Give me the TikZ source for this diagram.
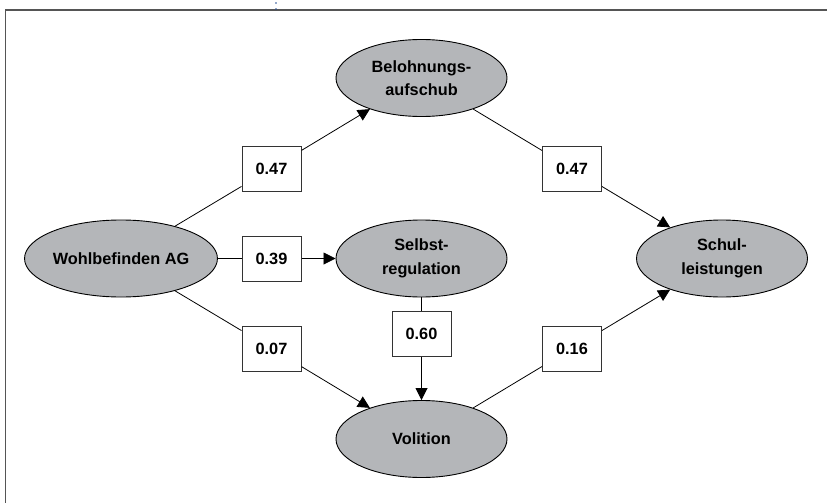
\documentclass[tikz,border=0pt]{standalone}
\usepackage{fontspec}
\setmainfont{Liberation Sans}
\usetikzlibrary{shapes.geometric,arrows.meta}
\definecolor{ellfill}{RGB}{180,182,185}
\definecolor{framecol}{RGB}{85,85,85}
\definecolor{dotcol}{RGB}{40,80,150}
\begin{document}
\begin{tikzpicture}[x=1pt,y=-1pt,
  latent/.style={ellipse, draw=black, line width=0.9pt, fill=ellfill,
    minimum width=171pt, minimum height=77pt, inner sep=0pt, align=center,
    font=\fontsize{16.3}{23.5}\selectfont\bfseries},
  coef/.style={rectangle, draw=black!80, line width=1pt, fill=white,
    minimum width=59pt, minimum height=45pt, inner sep=0pt,
    font=\fontsize{16.3}{20}\selectfont\bfseries},
  conn/.style={line width=0.8pt, draw=black},
  arr/.style={-{Triangle[length=12pt,width=12pt]}}
]
\useasboundingbox (0,0) rectangle (827,503);
\draw[framecol, line width=1.6pt] (5.5,503) -- (5.5,10) -- (827,10);
\fill[dotcol] (276,3) circle (0.8pt);
\fill[dotcol] (276,9) circle (0.8pt);

\node[latent] (W) at (121,258.5) {Wohlbefinden AG};
\node[latent] (B) at (421.5,78) {Belohnungs-\\aufschub};
\node[latent] (S) at (421.5,258.5) {Selbst-\\regulation};
\node[latent] (V) at (421.5,439) {Volition};
\node[latent] (L) at (722,258.5) {Schul-\\leistungen};

\node[coef] (b1) at (271.5,168.5) {0.47};
\node[coef] (b2) at (271.5,258.5) {0.39};
\node[coef] (b3) at (271.5,348.5) {0.07};
\node[coef] (b4) at (421.5,333.5) {0.60};
\node[coef] (b5) at (572,168.5) {0.47};
\node[coef] (b6) at (572,348.5) {0.16};

\draw[conn] (W) -- (b1);
\draw[conn,arr] (b1) -- (B);
\draw[conn] (W) -- (b2);
\draw[conn,arr] (b2) -- (S);
\draw[conn] (W) -- (b3);
\draw[conn,arr] (b3) -- (V);
\draw[conn] (S) -- (b4);
\draw[conn,arr] (b4) -- (V);
\draw[conn] (B) -- (b5);
\draw[conn,arr] (b5) -- (L);
\draw[conn] (V) -- (b6);
\draw[conn,arr] (b6) -- (L);
\end{tikzpicture}
\end{document}
